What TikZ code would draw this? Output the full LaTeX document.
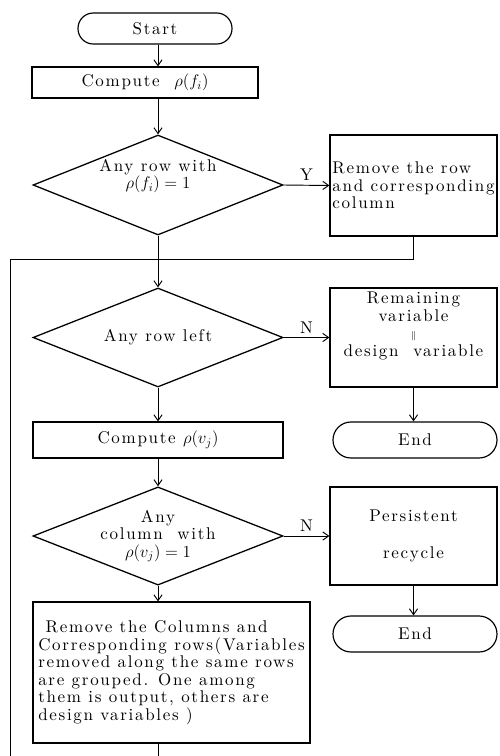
\documentclass[tikz,border=0pt]{standalone}
\usepackage{fontspec}
\setmainfont{lmroman10-regular}[Extension=.otf, BoldFont=lmroman10-bold, ItalicFont=lmroman10-italic, LetterSpace=10]
\usepackage{amsmath, amssymb}
\usepackage{tikz}
\usetikzlibrary{shapes.geometric, arrows.meta}

\begin{document}
\begin{tikzpicture}[x=0.03cm,y=-0.03cm,
	every node/.style={font=\fontsize{14.5}{15}\selectfont},
	term/.style={draw,line width=1pt,minimum width=4.92cm},
	box/.style={draw,line width=1pt,inner sep=1pt},
	test/.style={draw,line width=1.1pt,diamond,aspect=2.5,align=center,minimum width=7.5cm,inner sep=0pt},
	flow/.style={-{Straight Barb[length=5pt,width=7pt]},line width=0.8pt}]
			
			\useasboundingbox (0,0) rectangle (499,756);
			
			\node[term,rounded corners=4.6mm,minimum width=4.62cm,minimum height=0.93cm] (start) at (155,28.5) {Start};
			\node[box,minimum width=6.78cm,minimum height=0.93cm] (c1) at (145,82.5) {Compute\ \ $\rho(f_i)$};
			\node[test,minimum height=3cm] (d1) at (158,185) {Any row with\\$\rho(f_i)=1$\\[4pt]};
			\node[box,align=left,minimum width=5.01cm,minimum height=3.03cm] (r1) at (413.5,185.5) {Remove the row\\and corresponding\\column};
			
			\node[test,minimum height=2.97cm] (d2) at (158,337.5) {Any row left};
			\node[box,align=center,minimum width=5.01cm,minimum height=2.97cm] (r2) at (413.5,337.5) {Remaining\\variable\\{\footnotesize$\|$}\\design\ \ variable\\[8pt]};
			
			\node[box,minimum width=7.5cm,minimum height=1.08cm] (c2) at (158,440) {Compute $\rho(v_j)$};
			\node[term,rounded corners=5.4mm,minimum height=1.08cm] (e1) at (415,440) {End};
			
			\node[test,minimum height=2.94cm] (d3) at (158,536) {Any\\column\ \ with\\$\rho(v_j)=1$};
			\node[box,align=center,minimum width=5.01cm,minimum height=2.94cm] (r3) at (413.5,536) {Persistent\\[17pt]recycle};
			\node[term,rounded corners=5.4mm,minimum height=1.08cm] (e2) at (415,634) {End};
			
			\node[box,align=left,minimum width=8.31cm,minimum height=4.23cm] (r4) at (171.5,672.5) {\ Remove the Columns and\\Corresponding rows(Variables\\removed along the same rows\\are grouped. One among\\them is output, others are\\design variables )};
			
			\coordinate (lt) at (10,259);
			\coordinate (lb) at (10,756);
			\coordinate (mb) at (158,756);
			
			\draw[flow] (start.south -| d1.north) -- (c1.north -| d1.north);
			\draw[flow] (c1.south -| d1.north) -- (d1.north);
			\draw[flow] (d1.east) -- node[above]{Y} (r1.west);
			\draw[flow] (d1.south) -- (d2.north);
			\draw[flow] (d2.east) -- node[above]{N} (r2.west);
			\draw[flow] (r2.south) -- (r2.south |- e1.north);
			\draw[flow] (d2.south) -- (c2.north);
			\draw[flow] (c2.south) -- (d3.north);
			\draw[flow] (d3.east) -- node[above]{N} (r3.west);
			\draw[flow] (r3.south) -- (r3.south |- e2.north);
			\draw[flow] (d3.south) -- (d3.south |- r4.north);
			
			\draw[line width=0.8pt] (r1.south) |- (lt) -- (lb);
			\draw[line width=0.8pt] (d3.south |- r4.south) -- (mb);
			
		\end{tikzpicture}
\end{document}
